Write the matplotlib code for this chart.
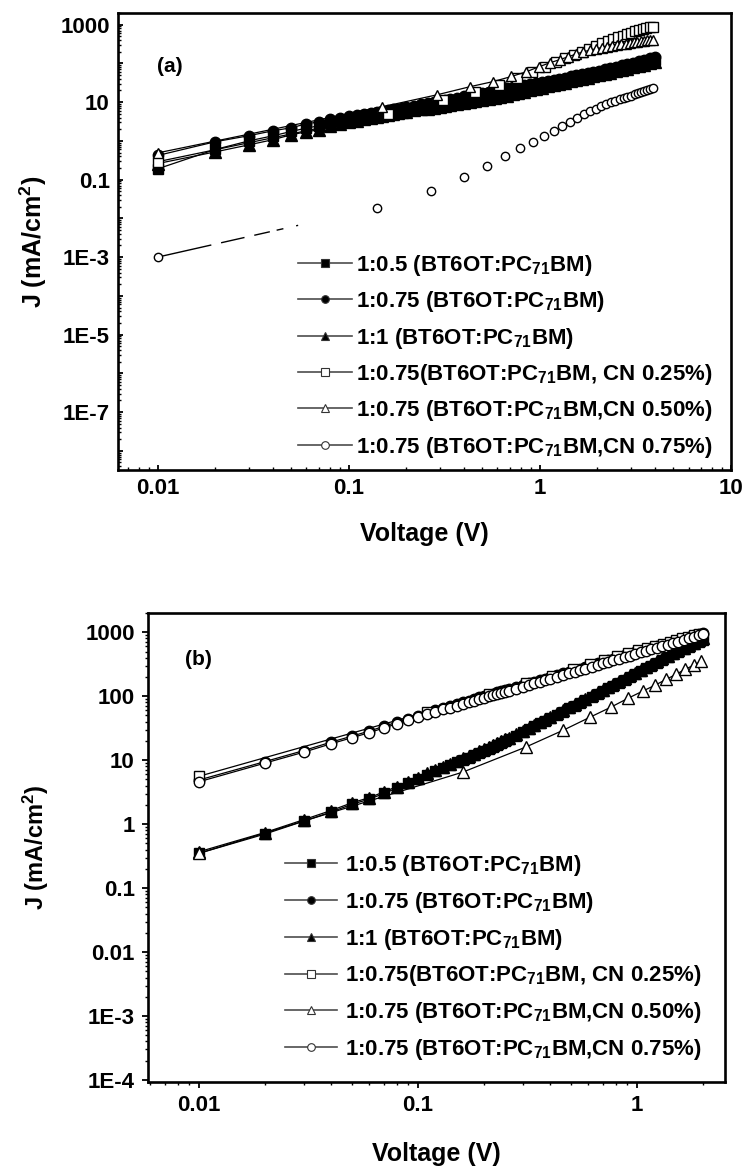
import matplotlib
matplotlib.use('Agg')
import matplotlib.pyplot as plt
from matplotlib.lines import Line2D
from matplotlib.ticker import FixedLocator, FixedFormatter, LogLocator, NullFormatter

plt.rcParams['font.family'] = ['Liberation Sans', 'DejaVu Sans']
plt.rcParams['font.weight'] = 'bold'
plt.rcParams['mathtext.fontset'] = 'custom'
plt.rcParams['mathtext.rm'] = 'Liberation Sans:bold'
plt.rcParams['mathtext.bf'] = 'Liberation Sans:bold'
plt.rcParams['mathtext.it'] = 'Liberation Sans:bold'
plt.rcParams['mathtext.default'] = 'rm'

# ---------------- data, panel (a) ----------------
VA = [0.01, 0.02, 0.03, 0.04, 0.05, 0.06, 0.07, 0.08, 0.09, 0.10,
      0.11, 0.12, 0.13, 0.14, 0.15, 0.16, 0.17, 0.18, 0.19, 0.20,
      0.22, 0.24, 0.26, 0.28, 0.30, 0.32, 0.34, 0.37, 0.40, 0.43,
      0.46, 0.50, 0.54, 0.58, 0.62, 0.67, 0.72, 0.77, 0.83, 0.89,
      0.95, 1.02, 1.10, 1.18, 1.26, 1.35, 1.45, 1.55, 1.66, 1.78,
      1.90, 2.04, 2.18, 2.34, 2.50, 2.68, 2.87, 3.07, 3.29, 3.52,
      3.76, 4.00]
JA_FS = [0.19, 0.6, 1.0, 1.35, 1.75, 2.15, 2.45, 2.95, 3.3, 3.7,
         4.0, 4.3, 4.55, 4.85, 5.15, 5.4, 5.7, 6.0, 6.25, 6.5,
         7.0, 7.5, 8.0, 8.5, 9.0, 9.5, 10.0, 10.7, 11.4, 12.1,
         12.8, 13.8, 14.8, 15.8, 16.8, 18.1, 19.4, 20.7, 22.3, 23.9,
         25.5, 27.4, 29.6, 31.8, 34, 36.5, 39.3, 42, 45.3, 48.8,
         52.5, 56.7, 61, 66, 71, 76.5, 82.5, 89, 96, 104,
         112, 121]
JA_FC = [0.42, 0.95, 1.36, 1.82, 2.18, 2.76, 3.1, 3.7, 4.0, 4.5,
         4.75, 5.0, 5.25, 5.6, 5.9, 6.2, 6.5, 6.8, 7.1, 7.4,
         8.1, 8.8, 9.5, 10.2, 10.8, 11.4, 12.0, 13.0, 14.0, 15.0,
         16.0, 17.3, 18.6, 19.9, 21.2, 22.8, 24.4, 26, 27.9, 29.8,
         31.6, 33.7, 36, 38.3, 40.6, 43.2, 46, 49, 52.5, 56.5,
         60.5, 65.5, 70.5, 76.5, 82.5, 89.5, 97, 105, 114, 124,
         136, 150]
JA_FT = [0.26, 0.52, 0.79, 1.07, 1.44, 1.72, 1.94, 2.4, 2.8, 3.1,
         3.35, 3.65, 3.95, 4.2, 4.45, 4.7, 4.95, 5.2, 5.45, 5.7,
         6.1, 6.5, 6.85, 7.2, 7.55, 7.9, 8.25, 8.8, 9.3, 9.85,
         10.4, 11.2, 12.0, 12.8, 13.6, 14.7, 15.9, 17.1, 18.6, 20.1,
         21.6, 23.4, 25.4, 27.5, 29.6, 32, 34.5, 37, 40, 43,
         46.5, 50, 54, 58, 62.5, 67.5, 73, 79, 85.5, 93,
         101, 110]
VA_OS = [0.01, 0.16, 0.31, 0.46, 0.61, 0.76, 0.91, 1.06, 1.21, 1.36, 1.51, 1.66, 1.81, 1.96,
         2.11, 2.26, 2.41, 2.56, 2.71, 2.86, 3.01, 3.16, 3.31, 3.46, 3.61, 3.76, 3.91]
JA_OS = [0.29, 5.0, 11.5, 18.7, 28, 43, 61, 82, 108, 135, 165, 200, 240, 285,
         330, 375, 420, 470, 520, 570, 620, 670, 720, 765, 810, 850, 890]
VA_OT = [0.01, 0.15, 0.29, 0.43, 0.57, 0.71, 0.85, 0.99, 1.13, 1.27, 1.41, 1.55, 1.69, 1.83, 1.97,
         2.11, 2.25, 2.39, 2.53, 2.67, 2.81, 2.95, 3.09, 3.23, 3.37, 3.51, 3.65, 3.79, 3.93]
JA_OT = [0.49, 7.6, 15.5, 25, 34, 46, 61, 82, 104, 125, 149, 175, 200, 220, 238,
         255, 270, 285, 298, 311, 323, 335, 347, 358, 369, 380, 391, 402, 413]
VA_OC = [0.01, 0.14, 0.27, 0.40, 0.53, 0.66, 0.79, 0.92, 1.05, 1.18, 1.31, 1.44, 1.57, 1.70, 1.83, 1.96,
         2.09, 2.22, 2.35, 2.48, 2.61, 2.74, 2.87, 3.00, 3.13, 3.26, 3.39, 3.52, 3.65, 3.78, 3.91]
JA_OC = [0.001, 0.019, 0.051, 0.118, 0.228, 0.41, 0.66, 0.95, 1.35, 1.85, 2.45, 3.1, 3.9, 4.8, 5.8, 6.8,
         7.8, 8.8, 9.8, 10.8, 11.8, 12.8, 13.8, 14.8, 15.8, 16.8, 17.8, 18.9, 20.0, 21.3, 22.7]

# ---------------- data, panel (b) ----------------
VB = [0.01, 0.02, 0.03, 0.04, 0.05, 0.06, 0.07, 0.08, 0.09, 0.10,
      0.11, 0.12, 0.13, 0.14, 0.15, 0.16, 0.17, 0.18, 0.19, 0.20,
      0.21, 0.22, 0.23, 0.24, 0.25, 0.26, 0.28, 0.30, 0.32, 0.34,
      0.36, 0.38, 0.40, 0.43, 0.46, 0.49, 0.52, 0.55, 0.58, 0.62,
      0.66, 0.70, 0.74, 0.78, 0.83, 0.88, 0.93, 0.98, 1.04, 1.10,
      1.16, 1.23, 1.30, 1.38, 1.46, 1.54, 1.63, 1.72, 1.82, 1.92,
      2.00]
JB_FS = [0.35, 0.70, 1.11, 1.54, 2.05, 2.46, 3.03, 3.65, 4.37, 5.0,
         5.85, 6.7, 7.5, 8.3, 9.2, 10.1, 11.0, 12.0, 13.0, 14.0,
         15.1, 16.2, 17.4, 18.7, 20.0, 21.3, 24.2, 27.3, 30.5, 34,
         37.5, 41, 45, 51, 57.5, 64.5, 71.5, 78.5, 86, 97,
         108, 120, 133, 146, 163, 181, 200, 220, 245, 272,
         300, 333, 368, 408, 450, 492, 540, 590, 646, 705,
         760]
JB_FC = [4.9, 9.5, 14.1, 19.1, 23.8, 28.6, 33.9, 39.2, 44.5, 49.8,
         55, 60.5, 66, 70, 75, 80.5, 85, 90, 95.5, 101,
         105, 110, 115, 120, 124, 129, 139, 149, 159, 169,
         178, 188, 197, 212, 227, 242, 257, 271, 286, 307,
         328, 348, 367, 387, 411, 435, 459, 483, 513, 542,
         570, 604, 638, 676, 714, 755, 800, 848, 900, 950,
         985]
JB_FT = [0.37, 0.74, 1.17, 1.63, 2.16, 2.6, 3.2, 3.86, 4.6, 5.3,
         6.2, 7.1, 7.95, 8.8, 9.75, 10.7, 11.7, 12.7, 13.8, 14.8,
         16.0, 17.2, 18.4, 19.8, 21.2, 22.6, 25.6, 28.9, 32.3, 36,
         39.7, 43.5, 47.7, 54, 61, 68.4, 75.8, 83.2, 91, 103,
         114.5, 127, 141, 155, 173, 192, 212, 233, 260, 288,
         318, 353, 390, 432, 477, 521, 572, 625, 685, 747,
         800]
JB_OC = [4.6, 9.0, 13.3, 18.0, 22.5, 27, 32, 37, 42, 47,
         52, 57, 62, 66, 71, 76, 80, 85, 90, 95,
         99, 104, 108, 113, 117, 122, 131, 140, 150, 159,
         168, 177, 186, 200, 214, 228, 242, 256, 270, 290,
         309, 328, 346, 365, 388, 410, 433, 456, 484, 511,
         538, 570, 602, 638, 674, 712, 755, 800, 850, 905,
         950]
VB_OS = [0.01, 0.11, 0.21, 0.31, 0.41, 0.51, 0.61, 0.71, 0.81, 0.91,
         1.01, 1.11, 1.21, 1.31, 1.41, 1.51, 1.61, 1.71, 1.81, 1.91]
JB_OS = [5.6, 57, 110, 160, 208, 262, 315, 368, 420, 470,
         520, 568, 615, 662, 708, 752, 800, 850, 900, 950]
VB_OT = [0.01, 0.16, 0.31, 0.46, 0.61, 0.76, 0.91, 1.06, 1.21, 1.36, 1.51, 1.66, 1.81, 1.96]
JB_OT = [0.35, 6.5, 16, 29.4, 47, 67.5, 93, 120, 149, 184, 221, 264, 305, 350]

LABELS = ['1:0.5 (BT6OT:PC$_{71}$BM)',
          '1:0.75 (BT6OT:PC$_{71}$BM)',
          '1:1 (BT6OT:PC$_{71}$BM)',
          '1:0.75(BT6OT:PC$_{71}$BM, CN 0.25%)',
          '1:0.75 (BT6OT:PC$_{71}$BM,CN 0.50%)',
          '1:0.75 (BT6OT:PC$_{71}$BM,CN 0.75%)']
MARKERS = ['s', 'o', '^', 's', '^', 'o']
FILLED = [True, True, True, False, False, False]

YA_TICKS = [1e-8, 1e-7, 1e-6, 1e-5, 1e-4, 1e-3, 1e-2, 1e-1, 1, 10, 100, 1000]
YA_LABELS = ['', '1E-7', '', '1E-5', '', '1E-3', '', '0.1', '', '10', '', '1000']
XA_TICKS = [0.01, 0.1, 1, 10]
XA_LABELS = ['0.01', '0.1', '1', '10']
YB_TICKS = [1e-4, 1e-3, 1e-2, 0.1, 1, 10, 100, 1000]
YB_LABELS = ['1E-4', '1E-3', '0.01', '0.1', '1', '10', '100', '1000']
XB_TICKS = [0.01, 0.1, 1]
XB_LABELS = ['0.01', '0.1', '1']

FS = 16


def series(ax, x, y, i, ms, z, ls='-', lw=0.9):
    ax.plot(x, y, color='k', lw=lw, ls=ls, marker=MARKERS[i], ms=ms,
            mfc='k' if FILLED[i] else 'white', mec='k', mew=1.0, zorder=z)


def legend(ax, anchor, hl, pad, spacing):
    handles = [Line2D([0], [0], color='0.3', lw=1.2, marker=MARKERS[i], ms=5.5,
                      mfc='k' if FILLED[i] else 'white', mec='0.2', mew=0.8)
               for i in range(6)]
    ax.legend(handles, LABELS, loc='center left', bbox_to_anchor=anchor, frameon=False,
              fontsize=FS, handlelength=hl, handletextpad=pad, labelspacing=spacing,
              borderpad=0, borderaxespad=0)


def axis_style(ax, tdir, major, minor, pad):
    ax.set_xscale('log')
    ax.set_yscale('log')
    for s in ax.spines.values():
        s.set_linewidth(1.9)
    ax.tick_params(which='both', direction=tdir, top=False, right=False,
                   labelsize=FS, pad=pad)
    ax.tick_params(which='major', length=major, width=1.3)
    ax.tick_params(which='minor', length=minor, width=1.0)
    ax.xaxis.set_minor_locator(LogLocator(base=10, subs=range(2, 10), numticks=100))
    ax.yaxis.set_minor_locator(LogLocator(base=10, subs=range(2, 10), numticks=100))
    ax.xaxis.set_minor_formatter(NullFormatter())
    ax.yaxis.set_minor_formatter(NullFormatter())


fig = plt.figure(figsize=(7.47, 11.71), dpi=100)

# ---------------- panel (a) ----------------
ax1 = fig.add_axes([118 / 747, 1 - 470 / 1171, 613 / 747, 457 / 1171])
axis_style(ax1, 'in', 3.5, 2, 6)
series(ax1, VA, JA_FS, 0, 6.5, 3)
series(ax1, VA, JA_FC, 1, 7.5, 4)
series(ax1, VA, JA_FT, 2, 8, 5)
series(ax1, VA_OS, JA_OS, 3, 6.5, 6)
series(ax1, VA_OT, JA_OT, 4, 7.5, 7)
series(ax1, VA_OC, JA_OC, 5, 6, 8, ls='none')
# the first segment of the CN 0.75% curve fades out in broken dashes
ax1.plot(VA_OC[:2], JA_OC[:2], color='k', lw=1.0, zorder=7.5,
         ls=(0, (39.6, 7.2, 17.3, 7.2, 11.5, 5, 5, 9.4, 1.5, 600)))
ax1.set_xlim(0.0062, 10)
ax1.set_ylim(3.2e-9, 2000)
ax1.xaxis.set_major_locator(FixedLocator(XA_TICKS))
ax1.xaxis.set_major_formatter(FixedFormatter(XA_LABELS))
ax1.yaxis.set_major_locator(FixedLocator(YA_TICKS))
ax1.yaxis.set_major_formatter(FixedFormatter(YA_LABELS))
ax1.set_xlabel('Voltage (V)', fontsize=18, fontweight='bold')
ax1.set_ylabel('J (mA/cm$^2$)', fontsize=18, fontweight='bold')
ax1.xaxis.set_label_coords(0.5, -0.113)
ax1.yaxis.set_label_coords(-0.112, 0.5)
ax1.text(0.064, 0.882, '(a)', transform=ax1.transAxes, fontsize=15,
         fontweight='bold', va='center', ha='left')
legend(ax1, (0.293, 0.249), 2.45, 0.2, 0.51)

# ---------------- panel (b) ----------------
ax2 = fig.add_axes([148 / 747, 1 - 1082 / 1171, 577 / 747, 469 / 1171])
axis_style(ax2, 'out', 4.5, 2.5, 5)
series(ax2, VB, JB_FT, 2, 8, 3)
series(ax2, VB, JB_FS, 0, 6.5, 4)
series(ax2, VB, JB_FC, 1, 7.5, 5)
series(ax2, VB_OS, JB_OS, 3, 7, 6)
series(ax2, VB_OT, JB_OT, 4, 9, 7)
series(ax2, VB, JB_OC, 5, 7.5, 8)
ax2.set_xlim(0.00585, 2.52)
ax2.set_ylim(9.3e-5, 2000)
ax2.xaxis.set_major_locator(FixedLocator(XB_TICKS))
ax2.xaxis.set_major_formatter(FixedFormatter(XB_LABELS))
ax2.yaxis.set_major_locator(FixedLocator(YB_TICKS))
ax2.yaxis.set_major_formatter(FixedFormatter(YB_LABELS))
ax2.set_xlabel('Voltage (V)', fontsize=18, fontweight='bold')
ax2.set_ylabel('J (mA/cm$^2$)', fontsize=17, fontweight='bold')
ax2.xaxis.set_label_coords(0.5, -0.128)
ax2.yaxis.set_label_coords(-0.168, 0.5)
ax2.text(0.064, 0.90, '(b)', transform=ax2.transAxes, fontsize=15,
         fontweight='bold', va='center', ha='left')
legend(ax2, (0.2374, 0.2655), 2.35, 0.35, 0.53)

fig.savefig('out.png', dpi=100)
